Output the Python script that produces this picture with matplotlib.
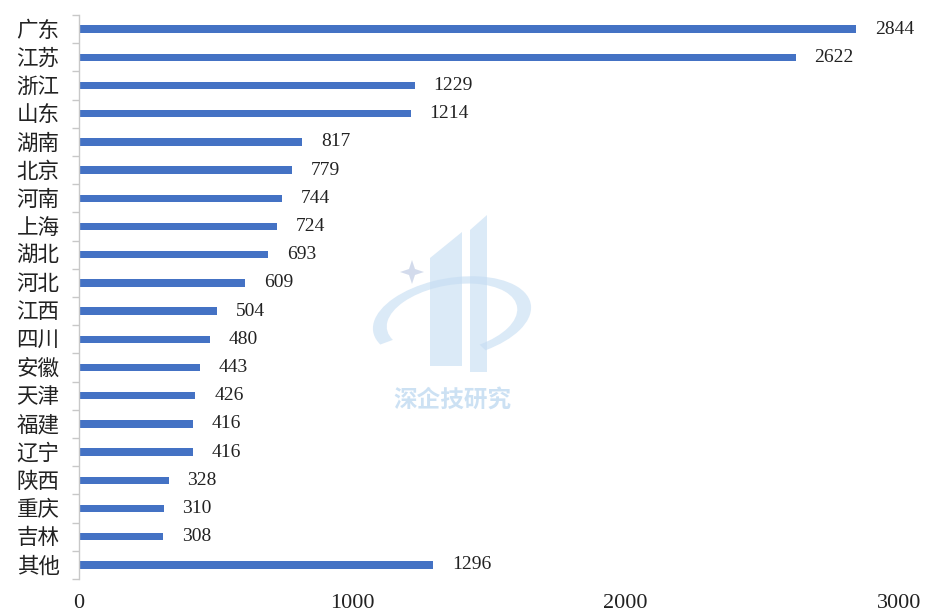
import matplotlib
matplotlib.use("Agg")
import matplotlib.pyplot as plt
import matplotlib.transforms as mt
from matplotlib.patches import Polygon, Wedge
import numpy as np

provinces = ["广东", "江苏", "浙江", "山东", "湖南", "北京", "河南", "上海", "湖北", "河北",
             "江西", "四川", "安徽", "天津", "福建", "辽宁", "陕西", "重庆", "吉林", "其他"]
counts = [2844, 2622, 1229, 1214, 817, 779, 744, 724, 693, 609,
          504, 480, 443, 426, 416, 416, 328, 310, 308, 1296]
x_ticks = [0, 1000, 2000, 3000]

FONT = ["Liberation Serif", "Noto Sans CJK SC", "DejaVu Sans"]
plt.rcParams["font.family"] = FONT

fig = plt.figure(figsize=(9.28, 6.15), dpi=100)
ax = fig.add_axes([79 / 928, 1 - 579 / 615, (899 - 79) / 928, (579 - 15) / 615])

y = np.arange(len(provinces))
ax.barh(y, counts, height=0.26, color="#4472C4", zorder=2)
ax.set_ylim(len(provinces) - 0.5, -0.5)
ax.set_xlim(0, 3000)

for yi, v in zip(y, counts):
    ax.annotate(str(v), xy=(v, yi), xytext=(13.5, 0), textcoords="offset points",
                ha="left", va="center", fontsize=14, color="#222222")

ax.set_yticks(y)
ax.set_yticklabels(provinces, fontsize=15.5, color="#222222")
ax.tick_params(axis="y", which="major", length=0, pad=14)
ax.set_yticks(np.arange(len(provinces) + 1) - 0.5, minor=True)
ax.tick_params(axis="y", which="minor", length=5, color="#c8c8c8", width=1)

ax.set_xticks(x_ticks)
ax.set_xticklabels([str(t) for t in x_ticks], fontsize=16, color="#222222")
ax.tick_params(axis="x", length=0, pad=11)

for s in ("top", "right", "bottom"):
    ax.spines[s].set_visible(False)
ax.spines["left"].set_color("#c8c8c8")
ax.spines["left"].set_linewidth(1)

# faint logo watermark
ov = fig.add_axes([0, 0, 1, 1], zorder=5)
ov.set_xlim(0, 928)
ov.set_ylim(615, 0)
ov.axis("off")
wm = "#c4dcf2"
al = 0.6
ov.add_patch(Polygon([[470, 230], [487, 215], [487, 372], [470, 372]],
                     closed=True, color=wm, alpha=al, lw=0))
ov.add_patch(Polygon([[430, 258], [462, 232], [462, 366], [430, 366]],
                     closed=True, color=wm, alpha=al, lw=0))
ring = Wedge((0, 0), 80, 160, 430, width=14, color=wm, alpha=al, lw=0)
ring.set_transform(mt.Affine2D().scale(1, 0.5).rotate_deg(-10).translate(452, 318) + ov.transData)
ov.add_patch(ring)
sx, sy, r = 412, 272, 12
star = [[sx, sy - r], [sx + 3, sy - 3], [sx + r, sy], [sx + 3, sy + 3],
        [sx, sy + r], [sx - 3, sy + 3], [sx - r, sy], [sx - 3, sy - 3]]
ov.add_patch(Polygon(star, closed=True, color="#c9d3e8", alpha=0.8, lw=0))
ov.text(452, 400, "深企技研究", ha="center", va="center", fontsize=17,
        fontweight="bold", color=wm, alpha=0.85, family=["Noto Sans CJK SC"])

fig.savefig("out.png", dpi=100, facecolor="white")
